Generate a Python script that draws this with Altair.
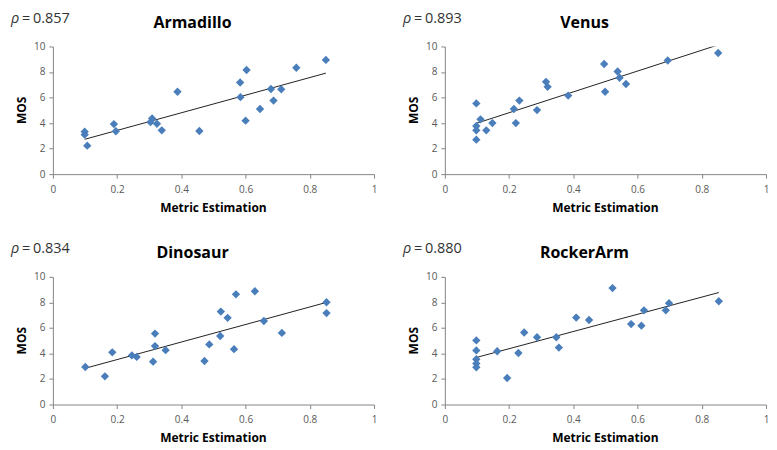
import altair as alt
import pandas as pd

# ---- data ----
names = ["Armadillo", "Venus", "Dinosaur", "RockerArm"]
rhos = ["0.857", "0.893", "0.834", "0.880"]
x_ticks = [0, 0.2, 0.4, 0.6, 0.8, 1]
y_ticks = [0, 2, 4, 6, 8, 10]

armadillo_x = [0.099, 0.099, 0.107, 0.190, 0.196, 0.304, 0.309, 0.324, 0.339, 0.388,
               0.456, 0.583, 0.584, 0.603, 0.600, 0.645, 0.679, 0.687, 0.711, 0.758, 0.850]
armadillo_y = [3.33, 3.09, 2.23, 3.92, 3.36, 4.07, 4.36, 3.95, 3.43, 6.45,
               3.38, 7.18, 6.03, 8.16, 4.19, 5.10, 6.67, 5.76, 6.64, 8.33, 8.95]

venus_x = [0.098, 0.098, 0.098, 0.098, 0.111, 0.129, 0.148, 0.215, 0.221, 0.232, 0.287,
           0.315, 0.320, 0.384, 0.496, 0.499, 0.538, 0.544, 0.564, 0.694, 0.851]
venus_y = [5.54, 3.77, 3.43, 2.70, 4.29, 3.43, 4.00, 5.10, 4.00, 5.76, 5.02,
           7.23, 6.84, 6.15, 8.63, 6.45, 8.04, 7.55, 7.06, 8.90, 9.49]

dinosaur_x = [0.101, 0.162, 0.185, 0.246, 0.261, 0.312, 0.318, 0.318, 0.351, 0.472, 0.487,
              0.521, 0.523, 0.544, 0.564, 0.570, 0.629, 0.657, 0.713, 0.852, 0.852]
dinosaur_y = [2.94, 2.21, 4.09, 3.85, 3.73, 3.36, 5.56, 4.58, 4.26, 3.41, 4.71,
              5.37, 7.28, 6.79, 4.34, 8.63, 8.87, 6.54, 5.61, 8.01, 7.16]

rocker_x = [0.098, 0.098, 0.098, 0.098, 0.098, 0.163, 0.194, 0.229, 0.247, 0.287, 0.347,
            0.355, 0.409, 0.449, 0.522, 0.580, 0.612, 0.620, 0.688, 0.698, 0.853]
rocker_y = [5.02, 4.24, 3.55, 3.21, 2.92, 4.17, 2.08, 4.04, 5.64, 5.27, 5.27,
            4.46, 6.81, 6.62, 9.12, 6.30, 6.18, 7.38, 7.38, 7.94, 8.09]

xs_all = [armadillo_x, venus_x, dinosaur_x, rocker_x]
ys_all = [armadillo_y, venus_y, dinosaur_y, rocker_y]

# ---- styling ----
W, H = 322, 128
FONT = "Open Sans"
AXIS_GRAY = "#868686"
LABEL_GRAY = "#595959"
POINT_BLUE = "#4A7EBB"
RHO_SIZE = 14.5


def panel(name, rho, xs, ys):
    df = pd.DataFrame({"x": xs, "y": ys})
    x_enc = alt.X("x:Q", scale=alt.Scale(domain=[0, 1], nice=False, zero=False),
                  axis=alt.Axis(values=x_ticks, format="~g", title=None, labelFlush=False,
                                labelPadding=6))
    y_enc = alt.Y("y:Q", scale=alt.Scale(domain=[0, 10], nice=False),
                  axis=alt.Axis(values=y_ticks, format="d", title=None, labelFlush=False,
                                labelPadding=4))
    base = alt.Chart(df)
    pts = base.mark_point(shape="diamond", filled=True, size=70, color=POINT_BLUE,
                          opacity=1).encode(x=x_enc, y=y_enc)
    line = base.transform_regression("x", "y").mark_line(
        color="#222222", strokeWidth=1, clip=True).encode(x=x_enc, y=y_enc)

    tdf = pd.DataFrame({"t": [name], "r": [rho]})
    tb = alt.Chart(tdf)
    title = tb.mark_text(font=FONT, fontSize=16, fontWeight="bold", color="#000000",
                         align="center", baseline="alphabetic").encode(
        text="t:N", x=alt.value(W / 2 - 21), y=alt.value(-19))
    rho_sym = tb.mark_text(font=FONT, fontSize=RHO_SIZE, fontStyle="italic", color="#333333",
                           align="left", baseline="alphabetic").encode(
        text=alt.value("ρ"), x=alt.value(-42), y=alt.value(-24))
    rho_eq = tb.mark_text(font=FONT, fontSize=RHO_SIZE, color="#333333",
                          align="left", baseline="alphabetic").encode(
        text=alt.value("="), x=alt.value(-31), y=alt.value(-24))
    rho_num = tb.mark_text(font=FONT, fontSize=RHO_SIZE, color="#333333",
                           align="left", baseline="alphabetic").encode(
        text="r:N", x=alt.value(-20), y=alt.value(-24))
    ytitle = tb.mark_text(font=FONT, fontSize=12, fontWeight="bold", color="#000000",
                          align="center", baseline="middle", angle=270).encode(
        text=alt.value("MOS"), x=alt.value(-31), y=alt.value(H / 2))
    xtitle = tb.mark_text(font=FONT, fontSize=12, fontWeight="bold", color="#000000",
                          align="center", baseline="alphabetic").encode(
        text=alt.value("Metric Estimation"), x=alt.value(W / 2), y=alt.value(H + 38))
    return alt.layer(line, pts, title, rho_sym, rho_eq, rho_num, ytitle, xtitle).properties(
        width=W, height=H)


panels = [panel(n, r, xs, ys) for n, r, xs, ys in zip(names, rhos, xs_all, ys_all)]

chart = alt.vconcat(
    alt.hconcat(panels[0], panels[1], spacing=26),
    alt.hconcat(panels[2], panels[3], spacing=26),
    spacing=27,
).properties(
    padding={"left": 3, "top": 2, "right": 0, "bottom": 0}
).configure_view(strokeWidth=0).configure_axis(
    grid=False,
    domainColor=AXIS_GRAY,
    tickColor=AXIS_GRAY,
    tickSize=4,
    domainWidth=1,
    tickWidth=1,
    labelFont=FONT,
    labelFontSize=10,
    labelColor=LABEL_GRAY,
)

chart.save("out.html", embed_options={"renderer": "svg", "actions": False})
